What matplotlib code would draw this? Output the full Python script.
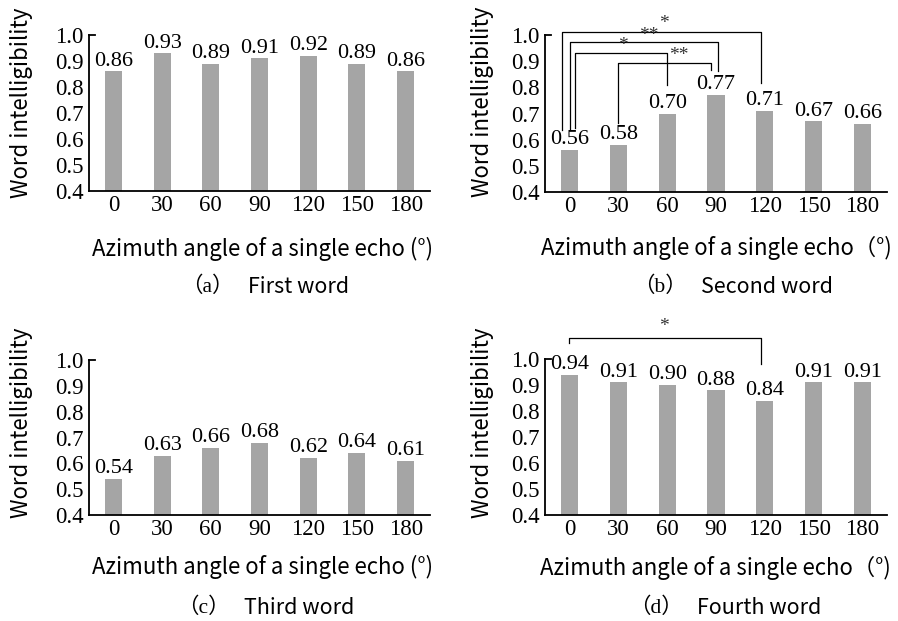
import numpy as np
import matplotlib
matplotlib.use("Agg")
import matplotlib.pyplot as plt

# data
angles = ["0", "30", "60", "90", "120", "150", "180"]
first_word = [0.86, 0.93, 0.89, 0.91, 0.92, 0.89, 0.86]
second_word = [0.56, 0.58, 0.70, 0.77, 0.71, 0.67, 0.66]
third_word = [0.54, 0.63, 0.66, 0.68, 0.62, 0.64, 0.61]
fourth_word = [0.94, 0.91, 0.90, 0.88, 0.84, 0.91, 0.91]
panel_tags = ["（a）", "（b）", "（c）", "（d）"]
panel_names = ["First word", "Second word", "Third word", "Fourth word"]
# significance pairs (index1, index2, mark)
sig_second = [(0, 4, "*"), (0, 3, "**"), (0, 2, "*"), (1, 3, "**")]
sig_fourth = [(0, 4, "*")]

SERIF = ["Liberation Serif", "Noto Sans CJK SC"]
SANS = ["Noto Sans CJK SC", "DejaVu Sans"]
BAR = "#a5a5a5"

W, H = 898.0, 621.0

def px(x, y):
	return x / W, 1 - y / H

def rect(left, top, right, bottom):
	return [left / W, 1 - bottom / H, (right - left) / W, (bottom - top) / H]

def panel(ax, vals):
	x = np.arange(len(vals))
	ax.bar(x, vals, width=0.35, color=BAR, zorder=2)
	for xi, v in zip(x, vals):
		ax.annotate("%.2f" % v, (xi, v), xytext=(0, 0.5), textcoords="offset points",
					ha="center", va="bottom", fontsize=16, family=SERIF)
	ax.set_xlim(-0.5, len(vals) - 0.5)
	ax.set_ylim(0.4, 1.0)
	ax.set_yticks(np.arange(0.4, 1.01, 0.1))
	ax.set_yticklabels(["%.1f" % t for t in np.arange(0.4, 1.01, 0.1)])
	ax.set_xticks(x)
	ax.set_xticklabels(angles)
	for lab in ax.get_xticklabels() + ax.get_yticklabels():
		lab.set_family(SERIF)
		lab.set_fontsize(16.5)
	ax.tick_params(axis="both", length=0)
	ax.tick_params(axis="x", pad=3)
	ax.tick_params(axis="y", pad=4)
	for s in ["top", "right"]:
		ax.spines[s].set_visible(False)
	for s in ["left", "bottom"]:
		ax.spines[s].set_linewidth(1.3)
	# short tick at the top of the value axis
	ax.plot([-0.5, -0.38], [1.0, 1.0], color="black", lw=1.3, clip_on=False)

def bracket(ax, x1, x2, top, y1, y2, mark, mx, my):
	ax.plot([x1, x1, x2, x2], [y1, top, top, y2], color="black", lw=0.9,
			clip_on=False, zorder=3)
	ax.text(mx, my, mark, ha="center", va="center", fontsize=14,
			family=SERIF, color="#333333")

fig = plt.figure(figsize=(8.98, 6.21), dpi=100)

axes = [
	fig.add_axes(rect(89, 35, 430, 191)),
	fig.add_axes(rect(545, 35, 887, 192)),
	fig.add_axes(rect(89, 360, 430, 515)),
	fig.add_axes(rect(545, 359, 887, 515)),
]
series = [first_word, second_word, third_word, fourth_word]
for ax, vals in zip(axes, series):
	panel(ax, vals)

# brackets, panel b
layout_b = [(-0.16, 3.93, 1.011, 0.637, 0.817, 1.93, 1.045),
			(0.02, 3.05, 0.972, 0.637, 0.863, 1.62, 1.000),
			(0.12, 2.00, 0.930, 0.645, 0.810, 1.10, 0.958),
			(1.00, 2.89, 0.892, 0.663, 0.866, 2.23, 0.920)]
for (i, j, m), (x1, x2, t, y1, y2, mx, my) in zip(sig_second, layout_b):
	bracket(axes[1], x1, x2, t, y1, y2, m, mx, my)

layout_d = [(0.0, 3.93, 1.081, 1.062, 0.981, 1.93, 1.125)]
for (i, j, m), (x1, x2, t, y1, y2, mx, my) in zip(sig_fourth, layout_d):
	bracket(axes[3], x1, x2, t, y1, y2, m, mx, my)

# labels
ylab_pos = [(22, 103), (483, 102), (22, 423), (483, 423)]
for (x, y) in ylab_pos:
	fig.text(*px(x, y), "Word intelligibility", rotation=90, ha="center",
			 va="center", fontsize=16, family=SANS)

xlab = ["Azimuth angle of a single echo (°)", "Azimuth angle of a single echo（°)",
		"Azimuth angle of a single echo (°)", "Azimuth angle of a single echo（°)"]
xlab_pos = [(263, 249), (716, 248), (263, 567), (715, 568)]
for t, (x, y) in zip(xlab, xlab_pos):
	fig.text(*px(x, y), t, ha="center", va="center", fontsize=16, family=SANS)

cap_pos = [(240, 287), (693, 287), (236, 608), (689, 608)]
for tag, name, (x, y) in zip(panel_tags, panel_names, cap_pos):
	fig.text(*px(x - 6, y), tag, ha="right", va="center", fontsize=15.5, family=SERIF)
	fig.text(*px(x + 8, y), name, ha="left", va="center", fontsize=15.5, family=SANS)

fig.savefig("out.png", dpi=100)
